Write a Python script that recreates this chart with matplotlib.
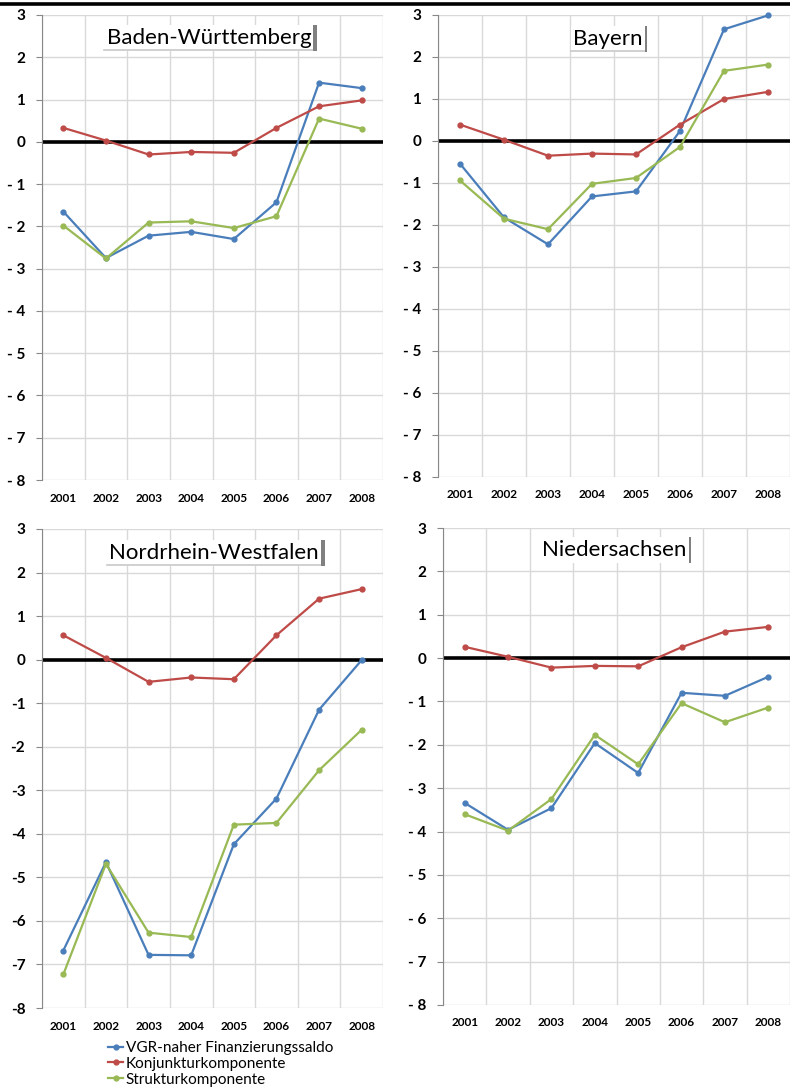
import numpy as np
import matplotlib
matplotlib.use("Agg")
import matplotlib.pyplot as plt
from matplotlib.lines import Line2D

plt.rcParams['font.family'] = ['Lato', 'DejaVu Sans']

years = ['2001', '2002', '2003', '2004', '2005', '2006', '2007', '2008']
series_names = ['VGR-naher Finanzierungssaldo', 'Konjunkturkomponente', 'Strukturkomponente']
colors = ['#4a7ebb', '#be4b48', '#98b954']

# Baden-Württemberg
bw_saldo = [-1.65, -2.75, -2.22, -2.13, -2.30, -1.43, 1.40, 1.27]
bw_konj = [0.33, 0.03, -0.30, -0.24, -0.26, 0.33, 0.84, 0.98]
bw_strukt = [-1.98, -2.76, -1.91, -1.88, -2.04, -1.76, 0.55, 0.31]

# Bayern
by_saldo = [-0.54, -1.82, -2.46, -1.32, -1.20, 0.24, 2.66, 2.99]
by_konj = [0.39, 0.03, -0.35, -0.30, -0.32, 0.39, 1.00, 1.17]
by_strukt = [-0.94, -1.85, -2.10, -1.02, -0.88, -0.14, 1.67, 1.82]

# Nordrhein-Westfalen
nrw_saldo = [-6.68, -4.65, -6.78, -6.79, -4.24, -3.19, -1.15, -0.01]
nrw_konj = [0.56, 0.04, -0.51, -0.41, -0.45, 0.56, 1.40, 1.62]
nrw_strukt = [-7.23, -4.69, -6.27, -6.37, -3.79, -3.75, -2.54, -1.61]

# Niedersachsen
nds_saldo = [-3.34, -3.96, -3.46, -1.96, -2.65, -0.80, -0.87, -0.43]
nds_konj = [0.26, 0.03, -0.22, -0.18, -0.19, 0.25, 0.61, 0.72]
nds_strukt = [-3.60, -3.98, -3.25, -1.77, -2.45, -1.04, -1.48, -1.14]

panels = [
    ('Baden-Württemberg', [bw_saldo, bw_konj, bw_strukt], True),
    ('Bayern', [by_saldo, by_konj, by_strukt], True),
    ('Nordrhein-Westfalen', [nrw_saldo, nrw_konj, nrw_strukt], False),
    ('Niedersachsen', [nds_saldo, nds_konj, nds_strukt], True),
]

W, H = 790, 1090
fig = plt.figure(figsize=(W / 100, H / 100), dpi=100)

# axes boxes in pixels: left, right, top, bottom
boxes = [(42, 383, 15, 480), (438, 790, 15, 477), (42, 383, 529, 1008), (443, 790, 528, 1005)]
# title centres in pixels and right-bar widths
title_pos = [(209, 38, 4, True), (608, 39, 2, True), (214, 553, 4, True), (614, 550, 2, False)]

yticks = list(range(-8, 4))

def fmt(v, spaced):
    if v < 0:
        return ('- %d' % -v) if spaced else ('-%d' % -v)
    return '%d' % v

axes = []
for (name, data, spaced), (l, r, t, b) in zip(panels, boxes):
    ax = fig.add_axes([l / W, 1 - b / H, (r - l) / W, (b - t) / H])
    axes.append(ax)
    x = np.arange(len(years))
    ax.set_xlim(-0.5, len(years) - 0.5)
    ax.set_ylim(-8, 3)
    ax.set_yticks(yticks)
    ax.set_yticklabels([fmt(v, spaced) for v in yticks])
    ax.set_xticks(x)
    ax.set_xticklabels(years, fontsize=8.5, fontweight='bold')
    ax.set_xticks(np.arange(len(years) + 1) - 0.5, minor=True)
    ax.grid(which='minor', axis='x', color='#d9d9d9', lw=1)
    ax.grid(which='major', axis='y', color='#d9d9d9', lw=1)
    ax.set_axisbelow(True)
    ax.tick_params(axis='x', which='both', length=0, pad=9)
    ax.tick_params(axis='y', length=4, color='#888888', pad=8, labelsize=11)
    for lab in ax.get_yticklabels():
        lab.set_fontweight('bold')
    for s in ['top', 'right', 'bottom']:
        ax.spines[s].set_visible(False)
    ax.spines['left'].set_color('#888888')
    ax.axhline(0, color='black', lw=2.6, zorder=2)
    for vals, c in zip(data, colors):
        ax.plot(x, vals, color=c, lw=1.6, marker='o', ms=3.5, zorder=3, clip_on=False)

# titles
fig.canvas.draw()
renderer = fig.canvas.get_renderer()
for (name, data, spaced), (cx, cy, bw, underline) in zip(panels, title_pos):
    txt = fig.text(cx / W, 1 - cy / H, name, ha='center', va='center', fontsize=16,
                   color='black', zorder=5,
                   bbox=dict(facecolor='white', edgecolor='none', pad=2))
    fig.canvas.draw()
    ext = txt.get_bbox_patch().get_window_extent(renderer)
    x0, x1 = ext.x0, ext.x1
    y0, y1 = ext.y0, ext.y1
    if underline:
        fig.add_artist(Line2D([x0 / W, x1 / W], [(y0 + 0.5) / H] * 2, color='#c8c8c8', lw=1.2, zorder=6))
    fig.add_artist(Line2D([(x1 + bw * 0.36) / W] * 2, [y0 / H, y1 / H], color='#808080', lw=bw * 0.72, zorder=6, solid_capstyle='butt'))

# top rule
fig.add_artist(Line2D([0, 1], [1 - 4 / H] * 2, color='black', lw=2.6))

# legend
handles = [Line2D([], [], color=c, lw=1.6, marker='o', ms=3.5) for c in colors]
fig.legend(handles, series_names, loc='upper left', bbox_to_anchor=(108 / W, 1 - 1041 / H),
           frameon=False, fontsize=11, handlelength=1.0, handletextpad=0.15,
           labelspacing=0.12, borderaxespad=0, borderpad=0)

fig.savefig('out.png', dpi=100)
